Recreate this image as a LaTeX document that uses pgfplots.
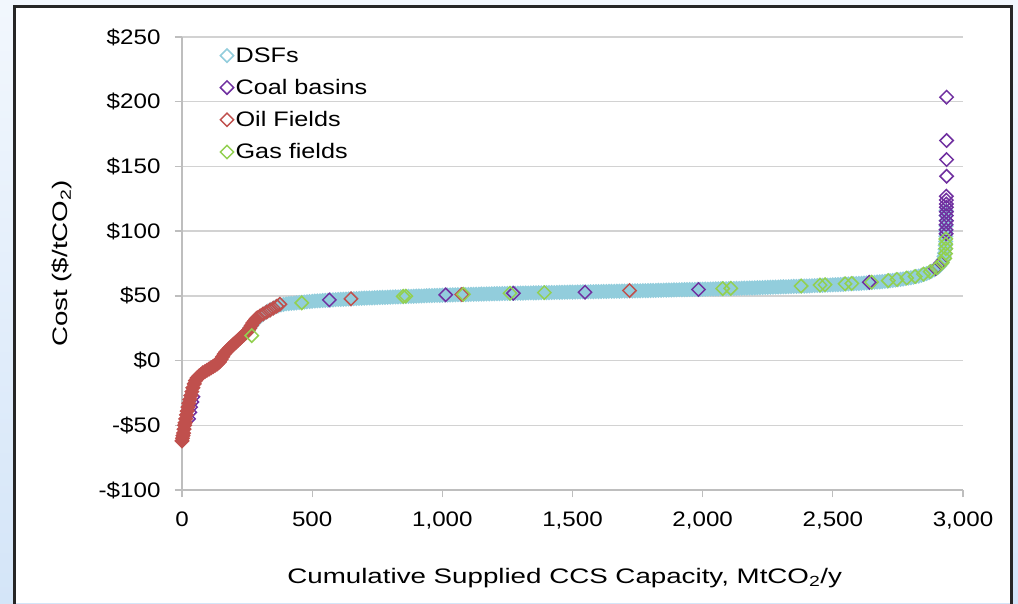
\documentclass[border=0pt]{standalone}
\usepackage{pgfplots}
\pgfplotsset{compat=1.18}
\usepackage{pgfplotstable}
\usepackage{fontspec}
\setmainfont{Liberation Sans}[FakeStretch=1.15]
\newfontfamily\labfont{Liberation Sans}[FakeStretch=1.32]
\newfontfamily\legfont{Liberation Sans}[FakeStretch=1.2]
\definecolor{dsf}{HTML}{92CDDC}
\definecolor{coal}{HTML}{7030A0}
\definecolor{oil}{HTML}{C0504D}
\definecolor{gas}{HTML}{92D050}
\definecolor{gridc}{HTML}{D2D2D2}
\definecolor{axisc}{HTML}{BEBEBE}
\definecolor{bgtop}{HTML}{F2F7FD}
\definecolor{bgbot}{HTML}{D4E5F8}
\newcommand\cf{\fontsize{21}{25}\selectfont}

\pgfplotstableread[row sep=\\]{x y\\
260 25.0\\ 270 27.5\\ 280 30.0\\ 290 32.0\\ 300 34.0\\ 310 35.5\\ 320 37.0\\ 330 38.3\\ 340 39.5\\ 350 40.5\\ 360 41.5\\ 370 42.3\\ 380 43.0\\ 390 43.4\\
400 43.8\\ 410 44.0\\ 420 44.2\\ 430 44.4\\ 440 44.6\\ 450 44.8\\ 460 45.0\\ 470 45.2\\ 480 45.4\\ 490 45.6\\
500 45.8\\ 510 46.0\\ 520 46.1\\ 530 46.2\\ 540 46.4\\ 550 46.5\\ 560 46.6\\ 570 46.8\\ 580 46.9\\ 590 47.1\\
600 47.2\\ 610 47.3\\ 620 47.4\\ 630 47.5\\ 640 47.6\\ 650 47.7\\ 660 47.8\\ 670 47.9\\ 680 48.0\\ 690 48.1\\
700 48.2\\ 710 48.3\\ 720 48.4\\ 730 48.4\\ 740 48.5\\ 750 48.6\\ 760 48.7\\ 770 48.8\\ 780 48.8\\ 790 48.9\\
800 49.0\\ 810 49.1\\ 820 49.2\\ 830 49.2\\ 840 49.3\\ 850 49.4\\ 860 49.5\\ 870 49.6\\ 880 49.6\\ 890 49.7\\
900 49.8\\ 910 49.9\\ 920 49.9\\ 930 50.0\\ 940 50.1\\ 950 50.2\\ 960 50.2\\ 970 50.3\\ 980 50.4\\ 990 50.4\\
1000 50.5\\ 1010 50.6\\ 1020 50.6\\ 1030 50.7\\ 1040 50.7\\ 1050 50.8\\ 1060 50.9\\ 1070 50.9\\ 1080 51.0\\ 1090 51.0\\
1100 51.1\\ 1110 51.2\\ 1120 51.2\\ 1130 51.3\\ 1140 51.3\\ 1150 51.4\\ 1160 51.4\\ 1170 51.5\\ 1180 51.5\\ 1190 51.6\\
1200 51.6\\ 1210 51.7\\ 1220 51.7\\ 1230 51.8\\ 1240 51.8\\ 1250 51.9\\ 1260 51.9\\ 1270 52.0\\ 1280 52.0\\ 1290 52.1\\
1300 52.1\\ 1310 52.1\\ 1320 52.2\\ 1330 52.2\\ 1340 52.3\\ 1350 52.3\\ 1360 52.3\\ 1370 52.4\\ 1380 52.4\\ 1390 52.5\\
1400 52.5\\ 1410 52.5\\ 1420 52.6\\ 1430 52.6\\ 1440 52.7\\ 1450 52.7\\ 1460 52.7\\ 1470 52.8\\ 1480 52.8\\ 1490 52.9\\
1500 52.9\\ 1510 52.9\\ 1520 53.0\\ 1530 53.0\\ 1540 53.1\\ 1550 53.1\\ 1560 53.1\\ 1570 53.2\\ 1580 53.2\\ 1590 53.3\\
1600 53.3\\ 1610 53.3\\ 1620 53.4\\ 1630 53.4\\ 1640 53.5\\ 1650 53.5\\ 1660 53.5\\ 1670 53.6\\ 1680 53.6\\ 1690 53.7\\
1700 53.7\\ 1710 53.7\\ 1720 53.8\\ 1730 53.8\\ 1740 53.9\\ 1750 53.9\\ 1760 53.9\\ 1770 54.0\\ 1780 54.0\\ 1790 54.1\\
1800 54.1\\ 1810 54.2\\ 1820 54.2\\ 1830 54.3\\ 1840 54.3\\ 1850 54.4\\ 1860 54.4\\ 1870 54.5\\ 1880 54.5\\ 1890 54.6\\
1900 54.6\\ 1910 54.7\\ 1920 54.7\\ 1930 54.8\\ 1940 54.8\\ 1950 54.9\\ 1960 54.9\\ 1970 55.0\\ 1980 55.0\\ 1990 55.1\\
2000 55.1\\ 2010 55.2\\ 2020 55.2\\ 2030 55.3\\ 2040 55.3\\ 2050 55.4\\ 2060 55.4\\ 2070 55.5\\ 2080 55.5\\ 2090 55.6\\
2100 55.6\\ 2110 55.7\\ 2120 55.7\\ 2130 55.8\\ 2140 55.8\\ 2150 55.9\\ 2160 56.0\\ 2170 56.0\\ 2180 56.1\\ 2190 56.1\\
2200 56.2\\ 2210 56.3\\ 2220 56.3\\ 2230 56.4\\ 2240 56.5\\ 2250 56.6\\ 2260 56.6\\ 2270 56.7\\ 2280 56.8\\ 2290 56.8\\
2300 56.9\\ 2310 57.0\\ 2320 57.0\\ 2330 57.1\\ 2340 57.2\\ 2350 57.3\\ 2360 57.3\\ 2370 57.4\\ 2380 57.5\\ 2390 57.5\\
2400 57.6\\ 2410 57.7\\ 2420 57.8\\ 2430 57.9\\ 2440 58.0\\ 2450 58.1\\ 2460 58.1\\ 2470 58.2\\ 2480 58.3\\ 2490 58.4\\
2500 58.5\\ 2510 58.6\\ 2520 58.7\\ 2530 58.8\\ 2540 58.9\\ 2550 59.1\\ 2560 59.2\\ 2570 59.3\\ 2580 59.4\\ 2590 59.5\\
2600 59.6\\ 2610 59.7\\ 2620 59.9\\ 2630 60.0\\ 2640 60.2\\ 2650 60.3\\ 2660 60.5\\ 2670 60.7\\ 2680 60.8\\ 2690 61.0\\
2700 61.2\\ 2710 61.4\\ 2720 61.7\\ 2730 61.9\\ 2740 62.2\\ 2750 62.4\\ 2760 62.7\\ 2770 63.0\\ 2780 63.4\\ 2790 63.7\\
2800 64.0\\ 2810 64.4\\ 2820 64.9\\ 2830 65.3\\ 2840 65.9\\ 2850 66.5\\ 2860 67.2\\ 2870 68.0\\ 2880 69.0\\ 2890 70.2\\
2900 71.5\\ 2905 72.2\\ 2910 73.0\\ 2915 74.3\\ 2920 76.0\\ 2924 78.0\\ 2927 80.5\\ 2929 83.0\\ 2931 86.0\\ 2932 89.0\\
2933 92.0\\ 2934 96.0\\ 2934 100\\ 2935 104\\ 2935 108\\ 2935 112\\ 2935 116\\
}\dsfdata

\pgfplotstableread[row sep=\\]{x y\\
25 -45\\ 30 -40\\ 33 -36\\ 38 -32\\ 42 -28\\
566 46.9\\ 1013 50.8\\ 1273 52.0\\ 1548 52.8\\ 1984 54.9\\ 2640 60.5\\
2895 71\\ 2905 73\\ 2915 75.5\\
2935 98\\ 2935 101\\ 2935 105\\ 2936 108\\ 2936 112\\ 2936 115\\ 2936 118.5\\ 2936 121\\ 2936 124\\ 2936 127\\
2937 142.4\\ 2937 155.3\\ 2937 170\\ 2937 203.5\\
}\coaldata

\pgfplotstableread[row sep=\\]{x y\\
0 -62\\ 2 -60\\ 4 -58\\ 6 -56\\ 8 -53\\ 10 -50\\ 12 -48\\ 14 -45\\ 17 -42\\ 20 -39\\ 23 -36\\ 26 -33\\ 30 -30\\
34 -27\\ 38 -24\\ 42 -21\\ 47 -18\\ 52 -15.5\\ 58 -13.5\\ 65 -12\\ 72 -11\\ 80 -9.5\\ 88 -8.5\\ 96 -7.5\\ 104 -6.5\\
112 -5.5\\ 120 -4.5\\ 128 -3.5\\ 136 -2.5\\ 144 -1\\ 150 1\\ 156 3\\ 162 5\\ 168 6.5\\ 175 8\\ 182 9.5\\ 190 11\\
198 12.5\\ 206 14\\ 214 15.5\\ 222 17\\ 230 18.5\\ 238 20\\ 246 21.5\\ 254 23\\ 260 25\\ 266 27\\ 272 29\\ 278 30.5\\ 284 32\\
}\oilband

\pgfplotstableread[row sep=\\]{x y\\
289 33\\ 300 34.5\\ 312 36\\ 325 37.5\\ 338 39\\ 351 40.5\\ 364 42\\ 376 43.5\\ 649 47.7\\ 1075 51.0\\ 1719 54.1\\
}\oilpts

\pgfplotstableread[row sep=\\]{x y\\
268 19.3\\ 460 44.6\\ 850 49.6\\ 860 49.8\\ 1081 51.2\\ 1260 52.0\\ 1392 52.5\\ 2077 55.6\\ 2108 55.8\\
2378 57.6\\ 2451 58.3\\ 2470 58.6\\ 2547 59.3\\ 2573 59.6\\ 2649 60.6\\ 2713 61.8\\ 2746 62.7\\ 2784 63.8\\
2816 65.0\\ 2848 66.8\\ 2874 68.8\\ 2899 71.6\\ 2920 75.5\\ 2930 79\\ 2933 82.7\\ 2934 86.5\\ 2934 90\\ 2934 94\\
}\gasdata

\pgfplotsset{
  dia/.style={only marks, mark=square, mark size=4.7pt,
    mark options={rotate=45, draw=#1, line width=1.5pt}},
  diaf/.style={only marks, mark=square*, mark size=4.7pt,
    mark options={rotate=45, draw=#1, fill=#1, line width=1.5pt}},
}

\begin{document}
\begin{tikzpicture}
\path[use as bounding box] (0pt,0pt) rectangle (1018pt,603pt);
\shade[top color=bgtop, bottom color=bgbot] (0pt,0pt) rectangle (1018pt,603pt);
\fill[white] (14.5pt,0pt) rectangle (1011.5pt,596.5pt);
\draw[black!85, line width=3pt] (14.5pt,-3pt) -- (14.5pt,596.5pt) -- (1011.5pt,596.5pt) -- (1011.5pt,-3pt);
\begin{axis}[
  at={(182pt,113pt)}, anchor=south west,
  scale only axis, width=781pt, height=453pt,
  xmin=0, xmax=3000, ymin=-100, ymax=250,
  clip=false,
  axis lines=left,
  axis line style={draw=axisc, line width=1.3pt, -},
  ymajorgrids,
  major grid style={draw=gridc, line width=1.3pt},
  tick align=outside, major tick length=7pt,
  major tick style={draw=axisc, line width=1.3pt},
  xtick={0,500,1000,1500,2000,2500,3000},
  xticklabels={0,500,{1,000},{1,500},{2,000},{2,500},{3,000}},
  ytick={-100,-50,0,50,100,150,200,250},
  yticklabels={-\$100,-\$50,\$0,\$50,\$100,\$150,\$200,\$250},
  tick label style={font=\cf},
  yticklabel style={xshift=-11pt},
  xticklabel style={yshift=-11pt},
  label style={font=\labfont\cf},
  xlabel={Cumulative Supplied CCS Capacity, MtCO\textsubscript{2}/y},
  ylabel={Cost (\$/tCO\textsubscript{2})},
  xlabel style={at={(axis description cs:0.49,-0.194)}, anchor=center},
  ylabel style={at={(axis description cs:-0.1536,0.5)}, anchor=center},
  legend style={draw=none, fill=none, font=\legfont\cf,
    at={(axis description cs:0.045,0.986)}, anchor=north west, row sep=11.5pt},
  legend cell align=left,
]
\addplot[forget plot, diaf=dsf] table[x=x,y=y]{\dsfdata};
\addplot[forget plot, dia=coal] table[x=x,y=y]{\coaldata};
\addplot[forget plot, diaf=oil] table[x=x,y=y]{\oilband};
\addplot[forget plot, dia=oil] table[x=x,y=y]{\oilpts};
\addplot[forget plot, dia=gas] table[x=x,y=y]{\gasdata};
\addlegendimage{dia=dsf}\addlegendentry{DSFs}
\addlegendimage{dia=coal}\addlegendentry{Coal basins}
\addlegendimage{dia=oil}\addlegendentry{Oil Fields}
\addlegendimage{dia=gas}\addlegendentry{Gas fields}
\end{axis}
\end{tikzpicture}
\end{document}
